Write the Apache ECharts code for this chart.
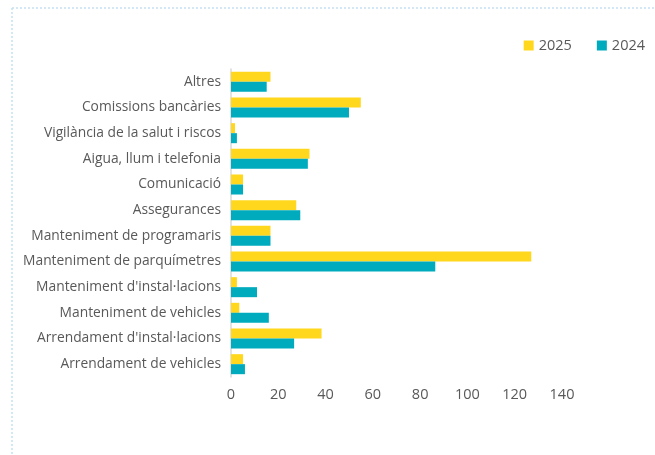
<!DOCTYPE html>
<html><head><meta charset="utf-8">
<script src="https://cdn.jsdelivr.net/npm/echarts@6/dist/echarts.min.js"></script>
<style>html,body{margin:0;padding:0;background:#fff}#c{width:655px;height:455px}</style>
</head><body><div id="c"></div>
<script>
const categories = ["Altres","Comissions bancàries","Vigilància de la salut i riscos","Aigua, llum i telefonia","Comunicació","Assegurances","Manteniment de programaris","Manteniment de parquímetres","Manteniment d'instal·lacions","Manteniment de vehicles","Arrendament d'instal·lacions","Arrendament de vehicles"];
const values2025 = [16.7,54.9,1.7,33.2,5.1,27.6,16.7,127.0,2.5,3.5,38.3,5.1];
const values2024 = [15.1,49.9,2.5,32.5,5.1,29.3,16.7,86.4,11.0,16.0,26.7,5.9];
const xTicks = {min:0, max:140, interval:20};
const chart = echarts.init(document.getElementById('c'));
const font = '"Open Sans", "Noto Sans", sans-serif';
chart.setOption({
  animation:false,
  textStyle:{fontFamily:font},
  graphic:[
    {type:'line',shape:{x1:12,y1:8,x2:655,y2:8},style:{stroke:'#c4e2f2',lineWidth:1.5,lineDash:[2,2]}},
    {type:'line',shape:{x1:12,y1:8,x2:12,y2:455},style:{stroke:'#c4e2f2',lineWidth:1.5,lineDash:[2,2]}}
  ],
  legend:{right:5,top:33,itemWidth:10,itemHeight:10,itemGap:25,icon:'rect',
    textStyle:{fontSize:14.5,color:'#595959',fontFamily:font},data:['2025','2024']},
  grid:{left:231,right:93,top:69,bottom:78,containLabel:false},
  xAxis:{type:'value',min:xTicks.min,max:xTicks.max,interval:xTicks.interval,
    axisLine:{show:false},axisTick:{show:false},splitLine:{show:false},
    axisLabel:{fontSize:14.5,color:'#595959',margin:10}},
  yAxis:{type:'category',data:categories,inverse:true,
    axisLine:{show:true,lineStyle:{color:'#d9d9d9',width:1.5}},axisTick:{show:false},
    axisLabel:{fontSize:13.8,color:'#595959',margin:10}},
  series:[
    {name:'2025',type:'bar',data:values2025,itemStyle:{color:'#FFD81E'},barGap:'0%',barCategoryGap:'22%'},
    {name:'2024',type:'bar',data:values2024,itemStyle:{color:'#00ABBE'},barGap:'0%',barCategoryGap:'22%'}
  ]
});
</script></body></html>
